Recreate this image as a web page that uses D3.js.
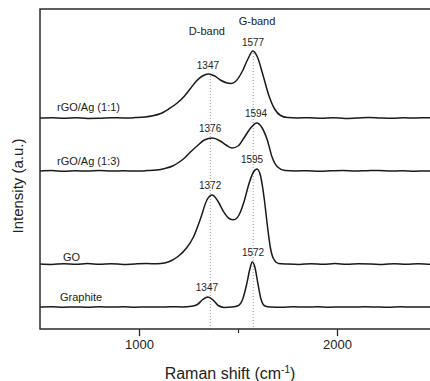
<!DOCTYPE html>
<html><head><meta charset="utf-8">
<script src="https://cdn.jsdelivr.net/npm/d3@7"></script>
<style>
html,body{margin:0;padding:0;background:#fff;}
svg{display:block;font-family:Arial,"Liberation Sans",sans-serif;}
</style></head>
<body>
<svg id="chart" width="430" height="381"></svg>
<script>
// Raman shift (cm^-1) samples and intensities (a.u.) for each spectrum
const seriesNames = ["rGO/Ag (1:1)", "rGO/Ag (1:3)", "GO", "Graphite"];
const rgo11 = [[500,211],[560,211.3],[620,210.8],[680,211.2],[740,210.6],[800,210.7],[860,211.3],[920,211],[980,211.4],[1030,212],[1070,213.2],[1110,215.5],[1150,220],[1190,225.5],[1230,233],[1260,240.5],[1290,248],[1320,253],[1352,255],[1380,253.2],[1415,248.5],[1445,246],[1465,245.6],[1490,248],[1520,257],[1550,270],[1575,278],[1598,272],[1626,254],[1655,234],[1685,220],[1715,213.5],[1750,211.4],[1800,211],[1860,211.3],[1920,210.8],[1980,211.2],[2040,210.6],[2100,211],[2160,211.5],[2220,211],[2280,210.7],[2340,211.2],[2400,211],[2460,211.3],[2500,211]];
const rgo13 = [[500,158],[560,158.4],[620,157.7],[680,158.2],[740,158],[800,158.5],[860,157.9],[920,158.2],[980,158],[1040,158.4],[1090,159],[1130,160.5],[1170,163],[1200,166.5],[1230,171],[1260,177],[1293,183],[1330,189],[1372,191],[1410,188],[1440,184],[1470,181],[1500,183],[1530,191],[1560,200],[1595,206],[1622,201],[1648,189],[1672,172],[1700,162],[1738,158.4],[1790,158],[1850,158.3],[1910,157.8],[1970,158.2],[2030,158.5],[2090,158],[2150,158.3],[2210,158.6],[2270,158],[2330,158.2],[2390,157.8],[2450,158.1],[2500,158]];
const go = [[500,65],[560,64.6],[620,65.3],[680,64.8],[740,65.4],[800,64.7],[860,65.2],[920,64.6],[980,65.1],[1040,65.4],[1090,65.2],[1130,66],[1165,68.5],[1200,73],[1240,81],[1275,92],[1310,110],[1343,129],[1370,134],[1398,128],[1425,118],[1455,110.5],[1478,109.2],[1505,114],[1530,127],[1555,145],[1578,157],[1596,160],[1614,153],[1632,131],[1648,104],[1662,83],[1680,70],[1705,65.6],[1750,65],[1810,64.6],[1870,65.3],[1930,64.8],[1990,65.4],[2050,64.7],[2110,65.2],[2170,65],[2230,64.6],[2290,65.3],[2350,64.8],[2410,65.2],[2470,64.8],[2500,65]];
const graphite = [[500,22],[560,22.2],[620,21.8],[680,22.1],[740,21.7],[800,22.2],[860,21.9],[920,22.2],[980,21.8],[1040,22.1],[1100,22],[1160,22.2],[1220,22.1],[1265,22.8],[1295,24.5],[1322,29.5],[1348,32],[1374,29],[1400,23.5],[1430,21.6],[1470,22],[1500,23.2],[1524,30],[1544,45],[1560,60],[1572,67],[1585,62],[1600,46],[1616,30],[1636,23],[1665,22],[1720,21.8],[1780,22.2],[1840,21.9],[1900,22.2],[1960,21.8],[2020,22.1],[2080,21.9],[2140,22.3],[2200,22],[2260,21.7],[2320,22.2],[2380,21.9],[2440,22.1],[2500,22]];
const allSeries = [rgo11, rgo13, go, graphite];

// annotation texts
const peakTexts = ["1347", "1577", "1376", "1594", "1372", "1595", "1347", "1572"];
const bandTexts = ["D-band", "G-band"];
const bandLines = [[1360,255],[1577,278]];
const xMajorTicks = [1000, 2000];
const xMinorTicks = [1500];

// annotation anchors in data units [shift, intensity]
const labelPos = [[586,218],[586,164],[616,68],[601,28]];
const peakPos = [[1348,260.5],[1576,283.5],[1359,197.5],[1591,212.5],[1359,140.5],[1571,166.5],[1343,38.5],[1576,73.5]];
const bandPos = [[1343,294],[1596,304]];

const svg = d3.select("#chart");
const mLeft = 40, mRight = 436, mTop = 9, mBottom = 329;
const x = d3.scaleLinear().domain([500, 2500]).range([mLeft, mRight]);
const y = d3.scaleLinear().domain([0, 320]).range([mBottom, mTop]);

// dotted band guides
svg.selectAll("line.guide").data(bandLines).join("line")
  .attr("class","guide")
  .attr("x1", d => x(d[0])).attr("x2", d => x(d[0]))
  .attr("y1", d => y(d[1]) + 2).attr("y2", mBottom)
  .attr("stroke", "#9a9a9a").attr("stroke-width", 1).attr("stroke-dasharray", "1,2");

// spectra
const line = d3.line().x(d => x(d[0])).y(d => y(d[1])).curve(d3.curveMonotoneX);
svg.selectAll("path.spec").data(allSeries).join("path")
  .attr("class","spec")
  .attr("d", line)
  .attr("fill", "none").attr("stroke", "#1a1a1a").attr("stroke-width", 1.5);

// frame
svg.append("rect").attr("x", mLeft).attr("y", mTop).attr("width", mRight - mLeft).attr("height", mBottom - mTop)
  .attr("fill", "none").attr("stroke", "#2a2a2a").attr("stroke-width", 1.5);

// x axis
const axMajor = d3.axisBottom(x).tickValues(xMajorTicks).tickSize(7).tickPadding(4).tickFormat(d3.format("d"));
const gx = svg.append("g").attr("transform", `translate(0,${mBottom})`).call(axMajor);
gx.select(".domain").remove();
gx.selectAll(".tick line").attr("stroke", "#2a2a2a").attr("stroke-width", 1.3);
gx.selectAll(".tick text").attr("font-size", 13).attr("fill", "#222").attr("font-family", "Arial, 'Liberation Sans', sans-serif");
const axMinor = d3.axisBottom(x).tickValues(xMinorTicks).tickSize(4).tickFormat("");
const gx2 = svg.append("g").attr("transform", `translate(0,${mBottom})`).call(axMinor);
gx2.select(".domain").remove();
gx2.selectAll(".tick line").attr("stroke", "#2a2a2a").attr("stroke-width", 1.2);

// axis titles
const xt = svg.append("text").attr("x", 230).attr("y", 379).attr("text-anchor", "middle")
  .attr("font-size", 16).attr("fill", "#222");
xt.append("tspan").text("Raman shift (cm");
xt.append("tspan").attr("font-size", 10).attr("dy", -6).text("-1");
xt.append("tspan").attr("dy", 6).text(")");
svg.append("text").attr("transform", "translate(23,186) rotate(-90)").attr("text-anchor", "middle")
  .attr("font-size", 15).attr("fill", "#222").text("Intensity (a.u.)");

// series names
svg.selectAll("text.sname").data(seriesNames).join("text")
  .attr("class","sname")
  .attr("x", (d,i) => x(labelPos[i][0])).attr("y", (d,i) => y(labelPos[i][1]))
  .attr("font-size", 11).attr("fill", "#222").text(d => d);

// peak labels
svg.selectAll("text.peak").data(peakTexts).join("text")
  .attr("class","peak")
  .attr("x", (d,i) => x(peakPos[i][0])).attr("y", (d,i) => y(peakPos[i][1]))
  .attr("text-anchor", "middle").attr("font-size", 10).attr("fill", "#222").text(d => d);

// band labels
svg.selectAll("text.band").data(bandTexts).join("text")
  .attr("class","band")
  .attr("x", (d,i) => x(bandPos[i][0])).attr("y", (d,i) => y(bandPos[i][1]))
  .attr("text-anchor", "middle").attr("font-size", 11).attr("fill", "#222").text(d => d);
</script>
</body></html>
